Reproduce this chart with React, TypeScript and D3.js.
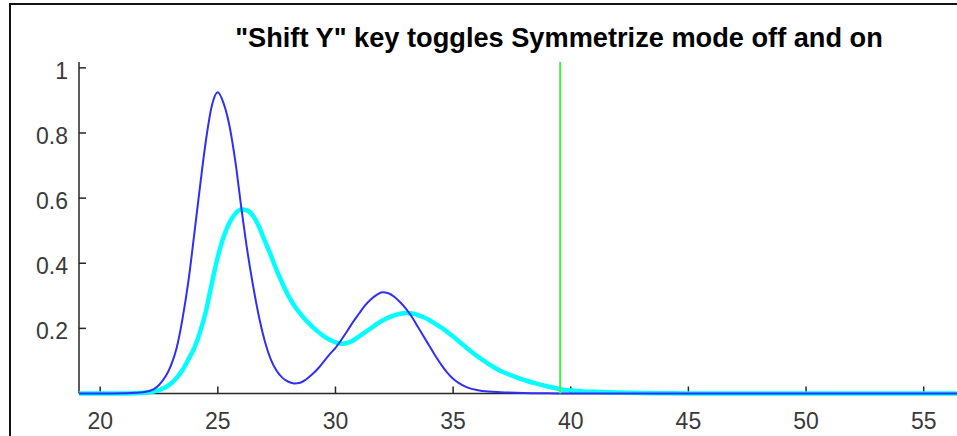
import React from "react";
import * as d3 from "d3";

const W = 957;
const H = 436;

const titleText = '"Shift Y" key toggles Symmetrize mode off and on';

const xTicks = [20, 25, 30, 35, 40, 45, 50, 55];
const xTickLabels = ["20", "25", "30", "35", "40", "45", "50", "55"];
const yTicks = [0.2, 0.4, 0.6, 0.8, 1];
const yTickLabels = ["0.2", "0.4", "0.6", "0.8", "1"];

const blueX = [19.1, 20, 21, 21.5, 22, 22.5, 23, 23.25, 23.5, 23.75, 24, 24.25, 24.5, 24.75, 25, 25.25, 25.5, 25.75, 26, 26.25, 26.5, 26.75, 27, 27.25, 27.5, 27.75, 28, 28.25, 28.5, 28.75, 29, 29.25, 29.5, 29.75, 30, 30.25, 30.5, 30.75, 31, 31.25, 31.5, 31.75, 32, 32.25, 32.5, 32.75, 33, 33.25, 33.5, 33.75, 34, 34.25, 34.5, 34.75, 35, 35.25, 35.5, 35.75, 36, 36.5, 37, 38, 39, 40, 42, 59.9];
const blueY = [0, 0, 0.0008, 0.002, 0.006, 0.026, 0.085, 0.14, 0.23, 0.345, 0.49, 0.64, 0.78, 0.885, 0.925, 0.89, 0.82, 0.71, 0.57, 0.44, 0.33, 0.235, 0.16, 0.105, 0.07, 0.048, 0.036, 0.031, 0.033, 0.043, 0.058, 0.076, 0.098, 0.12, 0.14, 0.165, 0.192, 0.22, 0.245, 0.27, 0.289, 0.303, 0.311, 0.308, 0.297, 0.28, 0.26, 0.235, 0.205, 0.175, 0.145, 0.115, 0.088, 0.064, 0.045, 0.032, 0.022, 0.015, 0.011, 0.006, 0.004, 0.0015, 0.0006, 0.0002, 0, 0];

const cyanX = [19.1, 20, 21, 22, 22.5, 23, 23.25, 23.5, 23.75, 24, 24.25, 24.5, 24.75, 25, 25.25, 25.5, 25.75, 26, 26.25, 26.5, 26.75, 27, 27.25, 27.5, 27.75, 28, 28.25, 28.5, 28.75, 29, 29.25, 29.5, 29.75, 30, 30.25, 30.5, 30.75, 31, 31.25, 31.5, 31.75, 32, 32.25, 32.5, 32.75, 33, 33.25, 33.5, 33.75, 34, 34.25, 34.5, 34.75, 35, 35.25, 35.5, 35.75, 36, 36.25, 36.5, 36.75, 37, 37.5, 38, 38.5, 39, 39.5, 40, 40.5, 41, 42, 43, 44, 45, 59.9];
const cyanY = [0, 0, 0, 0.003, 0.01, 0.03, 0.048, 0.072, 0.105, 0.14, 0.19, 0.255, 0.34, 0.42, 0.482, 0.525, 0.553, 0.565, 0.562, 0.545, 0.512, 0.468, 0.425, 0.378, 0.337, 0.3, 0.27, 0.245, 0.224, 0.206, 0.19, 0.176, 0.165, 0.157, 0.153, 0.155, 0.163, 0.175, 0.188, 0.2, 0.213, 0.224, 0.233, 0.24, 0.245, 0.247, 0.246, 0.241, 0.234, 0.225, 0.214, 0.202, 0.189, 0.175, 0.16, 0.145, 0.13, 0.116, 0.103, 0.091, 0.08, 0.07, 0.055, 0.042, 0.031, 0.022, 0.014, 0.009, 0.0065, 0.005, 0.003, 0.0015, 0.0007, 0, 0];

const cursorX = [39.55];

export default function App() {
  const x = d3.scaleLinear().domain([19.1, 59.9]).range([79, 1039]);
  const y = d3.scaleLinear().domain([0, 1.018]).range([393.5, 62]);

  const line = d3
    .line<[number, number]>()
    .x((d) => x(d[0]))
    .y((d) => y(d[1]))
    .curve(d3.curveMonotoneX);

  const blueData: [number, number][] = blueX.map((v, i) => [v, blueY[i]]);
  const cyanData: [number, number][] = cyanX.map((v, i) => [v, cyanY[i]]);

  const axisColor = "#262626";
  const font = "'Liberation Sans', Arial, Helvetica, sans-serif";

  return (
    <svg
      width={W}
      height={H}
      style={{ position: "absolute", left: 0, top: 0, background: "#fff" }}
      fontFamily={font}
    >
      <rect x={0} y={0} width={W} height={H} fill="#fff" />
      {/* window frame */}
      <path d={`M10,${H} L10,4 L${W},4`} fill="none" stroke="#111" strokeWidth={2} />

      {/* title */}
      <text x={559} y={47} textAnchor="middle" fontWeight="bold" fontSize={27.2} fill="#000">
        {titleText}
      </text>

      {/* axes */}
      <line x1={x(19.1)} x2={x(59.9)} y1={y(0)} y2={y(0)} stroke={axisColor} strokeWidth={1.5} />
      <line x1={x(19.1)} x2={x(19.1)} y1={y(0)} y2={y(1.018)} stroke={axisColor} strokeWidth={1.5} />

      {xTicks.map((t, i) => (
        <g key={"xt" + t}>
          <line x1={x(t)} x2={x(t)} y1={y(0)} y2={y(0) - 7} stroke={axisColor} strokeWidth={1.5} />
          <text x={x(t)} y={429} textAnchor="middle" fontSize={23} fill="#3a3a3a">
            {xTickLabels[i]}
          </text>
        </g>
      ))}
      {yTicks.map((t, i) => (
        <g key={"yt" + t}>
          <line x1={x(19.1)} x2={x(19.1) + 7} y1={y(t)} y2={y(t)} stroke={axisColor} strokeWidth={1.5} />
          <text x={68} y={y(t) + 11} textAnchor="end" fontSize={23} fill="#3a3a3a">
            {yTickLabels[i]}
          </text>
        </g>
      ))}

      {/* curves */}
      <path d={line(cyanData) || ""} fill="none" stroke="#00ffff" strokeWidth={4.5} strokeLinejoin="round" />
      <path d={line(blueData) || ""} fill="none" stroke="#2f2ff5" strokeWidth={2} strokeLinejoin="round" />

      {/* cursor line */}
      {cursorX.map((c) => (
        <line key={"c" + c} x1={x(c)} x2={x(c)} y1={y(1.018)} y2={y(0)} stroke="#44ee44" strokeWidth={2} />
      ))}
    </svg>
  );
}
